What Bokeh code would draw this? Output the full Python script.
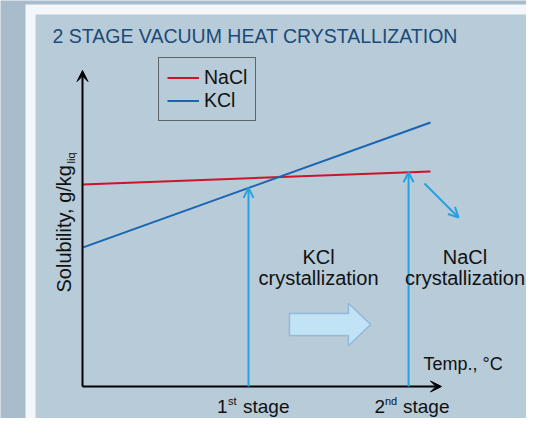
import numpy as np
from bokeh.plotting import figure
from bokeh.models import (Range1d, Arrow, VeeHead, OpenHead, Label, Legend, LegendItem,
                          BoxAnnotation, PolyAnnotation)
from bokeh.embed import file_html
from bokeh.resources import INLINE

# ---- data (conceptual units: temperature 0..100, solubility) ----
temps = [0, 100]
nacl_solubility = [67.3, 71.7]
kcl_solubility = [46.3, 88.0]
stage_temps = [47.7, 93.7]
stage_numbers = ["1", "2"]
stage_suffixes = ["st", "nd"]
series_names = ["NaCl", "KCl"]

FONT = "Liberation Sans"
RED = "#d0122b"
BLUE = "#1765b3"
CYAN = "#27a2e0"

# picture-pixel -> data helpers (for layout of annotations)
def X(px):
    return (px - 82) / 3.48

def Y(py):
    return (386 - py) / 3.0

W, H = 526, 418
p = figure(width=W, height=H, output_backend="svg", toolbar_location=None,
           x_range=Range1d(X(0), X(W)), y_range=Range1d(Y(H), Y(0)),
           x_axis_type=None, y_axis_type=None, min_border=0,
           outline_line_color=None,
           background_fill_color="#a9bccb", border_fill_color="#a9bccb")

# white frame and inner panel
p.add_layout(BoxAnnotation(left=X(25), top=Y(4), fill_color="#f4f7f9", fill_alpha=1,
                           line_alpha=0, level="underlay"))
p.add_layout(BoxAnnotation(left=X(35), top=Y(14), fill_color="#b7cbd8", fill_alpha=1,
                           line_alpha=0, level="underlay"))

def lab(x, y, text, size=19, align="left", color="#111111"):
    # y is the wanted baseline in picture pixels
    p.add_layout(Label(x=X(x), y=Y(y - 0.37 * size), text=text, text_font=FONT,
                       text_font_size=f"{size}px", text_color=color, text_align=align,
                       text_baseline="alphabetic"))

# title
lab(52, 43, "2 STAGE VACUUM HEAT CRYSTALLIZATION", size=19.5, color="#1b4b79")

# axes with arrow heads
p.add_layout(Arrow(x_start=0, y_start=0, x_end=0, y_end=Y(70), line_color="black",
                   line_width=2, end=VeeHead(size=11, fill_color="black", line_color="black")))
p.add_layout(Arrow(x_start=0, y_start=0, x_end=X(441), y_end=0, line_color="black",
                   line_width=2, end=VeeHead(size=11, fill_color="black", line_color="black")))

# solubility lines
r_nacl = p.line(temps, nacl_solubility, line_color=RED, line_width=2)
r_kcl = p.line(temps, kcl_solubility, line_color=BLUE, line_width=2)

# stage arrows up to the solubility curves
stage_tops = [float(np.interp(stage_temps[0], temps, kcl_solubility)),
              float(np.interp(stage_temps[1], temps, nacl_solubility))]
for t, top in zip(stage_temps, stage_tops):
    p.add_layout(Arrow(x_start=t, y_start=0, x_end=t, y_end=top, line_color=CYAN,
                       line_width=2, end=OpenHead(size=10, line_color=CYAN, line_width=2)))

# diagonal arrow (NaCl leaves)
p.add_layout(Arrow(x_start=X(424), y_start=Y(183), x_end=X(458), y_end=Y(217),
                   line_color=CYAN, line_width=2,
                   end=OpenHead(size=10, line_color=CYAN, line_width=2)))

# big fat arrow
ax = [289, 348, 348, 370, 348, 348, 289]
ay = [313, 313, 303, 324, 345, 335, 335]
p.add_layout(PolyAnnotation(xs=[X(v) for v in ax], ys=[Y(v) for v in ay],
                            fill_color="#c2e3f6", fill_alpha=1,
                            line_color="#2c7cc0", line_width=1.5))

# region labels
lab(318, 264, "KCl", size=20, align="center")
lab(318, 285, "crystallization", size=20, align="center")
lab(464.5, 264, "NaCl", size=20, align="center")
lab(464.5, 285, "crystallization", size=20, align="center")
lab(423, 370, "Temp., °C", size=18)

# stage labels under x axis
lab(216.5, 413, stage_numbers[0])
lab(227.5, 405, stage_suffixes[0], size=11)
lab(242.5, 413, "stage")
lab(374, 413, stage_numbers[1])
lab(384.5, 405, stage_suffixes[1], size=11)
lab(402.5, 413, "stage")

# y axis label with subscript (rotated; baseline correction along x)
p.add_layout(Label(x=X(71 - 0.37 * 20), y=Y(292), text="Solubility, g/kg", angle=np.pi / 2,
                   text_font=FONT, text_font_size="20px", text_color="#111111",
                   text_align="left", text_baseline="alphabetic"))
p.add_layout(Label(x=X(75 - 0.37 * 11), y=Y(163), text="liq", angle=np.pi / 2,
                   text_font=FONT, text_font_size="11px", text_color="#111111",
                   text_align="left", text_baseline="alphabetic"))

# legend
legend = Legend(items=[LegendItem(label=series_names[0], renderers=[r_nacl]),
                       LegendItem(label=series_names[1], renderers=[r_kcl])],
                location=(158, H - 121), orientation="vertical",
                label_text_font=FONT, label_text_font_size="19.5px",
                label_text_color="#111111",
                glyph_width=32, glyph_height=21, label_height=21, label_standoff=5,
                spacing=0, padding=8, margin=0,
                border_line_color="black", border_line_width=1.5,
                background_fill_alpha=0)
p.add_layout(legend)

open("out.html", "w").write(file_html(p, INLINE))
